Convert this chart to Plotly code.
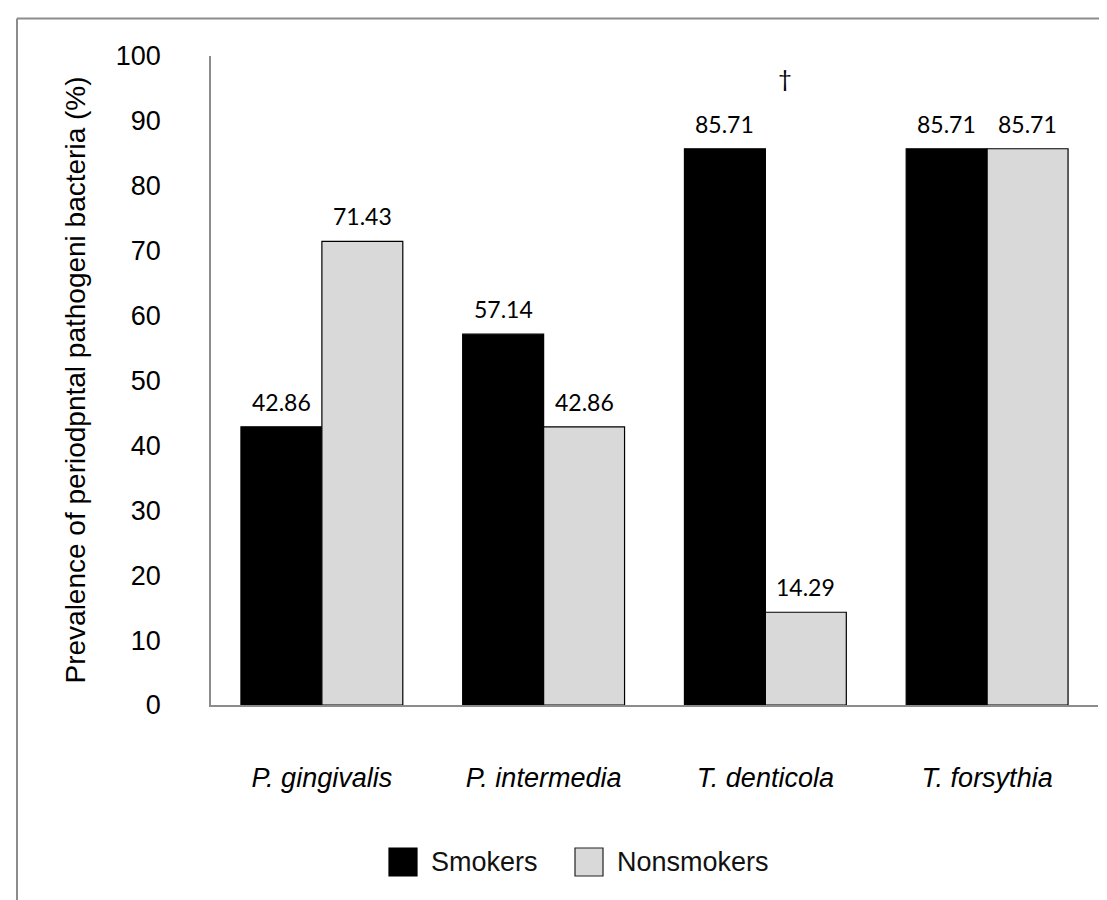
import plotly.graph_objects as go

categories = ["P. gingivalis", "P. intermedia", "T. denticola", "T. forsythia"]
smokers = [42.86, 57.14, 85.71, 85.71]
nonsmokers = [71.43, 42.86, 14.29, 85.71]
series_names = ["Smokers", "Nonsmokers"]
y_ticks = [0, 10, 20, 30, 40, 50, 60, 70, 80, 90, 100]
y_title = "Prevalence of periodpntal pathogeni bacteria (%)"
sig_category = "T. denticola"
sig_mark = "†"

BLACK = "#000000"
LIGHT = "#d9d9d9"
AXIS = "#8c8c8c"
ARIAL = "Liberation Sans, Arial, sans-serif"
CALIBRI = "Lato, Open Sans, sans-serif"

W, H = 1107, 900
L, R, T, B = 203, 17, 48, 203
PW, PH = W - L - R, H - T - B
BARGAP = 0.27


def px_x(px):
    return (px - L) / PW


def px_y(py):
    return (H - B - py) / PH


fig = go.Figure()
fig.add_trace(go.Bar(x=categories, y=smokers, name=series_names[0],
                     marker=dict(color=BLACK, line=dict(color=BLACK, width=1.2)),
                     showlegend=False))
fig.add_trace(go.Bar(x=categories, y=nonsmokers, name=series_names[1],
                     marker=dict(color=LIGHT, line=dict(color=BLACK, width=1.2)),
                     showlegend=False))

half = (1 - BARGAP) / 4
annotations = []
for i, c in enumerate(categories):
    for off, v in ((-half, smokers[i]), (half, nonsmokers[i])):
        annotations.append(dict(x=i + off, y=v, xref="x", yref="y", text=f"{v:.2f}",
                                showarrow=False, yshift=25, yanchor="middle",
                                font=dict(family=CALIBRI, size=23, color=BLACK)))

si = categories.index(sig_category)
annotations.append(dict(x=si + 0.09, y=max(smokers[si], nonsmokers[si]), xref="x", yref="y",
                        text=sig_mark, showarrow=False, yshift=71, yanchor="middle",
                        font=dict(family=CALIBRI, size=24, color=BLACK)))

annotations.append(dict(x=px_x(67), y=0.5, xref="paper", yref="paper", text=y_title,
                        textangle=-90, showarrow=False, xanchor="center", yanchor="middle",
                        font=dict(family=ARIAL, size=28, color=BLACK)))

# legend (manual, large swatches)
legend_items = [(series_names[0], BLACK, 381), (series_names[1], LIGHT, 567)]
shapes = []
for name, col, x0 in legend_items:
    shapes.append(dict(type="rect", xref="paper", yref="paper",
                       x0=px_x(x0), x1=px_x(x0 + 28), y0=px_y(868), y1=px_y(840),
                       fillcolor=col, line=dict(color=BLACK if col == BLACK else "#222", width=1.2)))
    annotations.append(dict(x=px_x(x0 + 40), y=px_y(854), xref="paper", yref="paper",
                            text=name, showarrow=False, xanchor="left", yanchor="middle",
                            font=dict(family=ARIAL, size=27, color="#111")))

# outer frame (top and left visible)
shapes.append(dict(type="line", xref="paper", yref="paper", x0=px_x(9), x1=px_x(W + 5),
                   y0=px_y(10.5), y1=px_y(10.5), line=dict(color=AXIS, width=2)))
shapes.append(dict(type="line", xref="paper", yref="paper", x0=px_x(9), x1=px_x(9),
                   y0=px_y(10.5), y1=px_y(H + 5), line=dict(color=AXIS, width=2)))

fig.update_layout(
    width=W, height=H,
    margin=dict(l=L, r=R, t=T, b=B, pad=0),
    paper_bgcolor="white", plot_bgcolor="white",
    barmode="group", bargap=BARGAP, bargroupgap=0,
    showlegend=False,
    annotations=annotations, shapes=shapes,
    xaxis=dict(type="category", showgrid=False, showline=True, linecolor=AXIS, linewidth=1.5,
               ticks="", ticklabelstandoff=48,
               tickfont=dict(family=ARIAL, size=27, color=BLACK, style="italic")),
    yaxis=dict(range=[0, 100], tickvals=y_ticks, showgrid=False, zeroline=False,
               showline=True, linecolor=AXIS, linewidth=1.5, ticks="", ticklabelstandoff=43,
               tickfont=dict(family=ARIAL, size=27, color=BLACK)),
)

fig.write_html("out.html")
